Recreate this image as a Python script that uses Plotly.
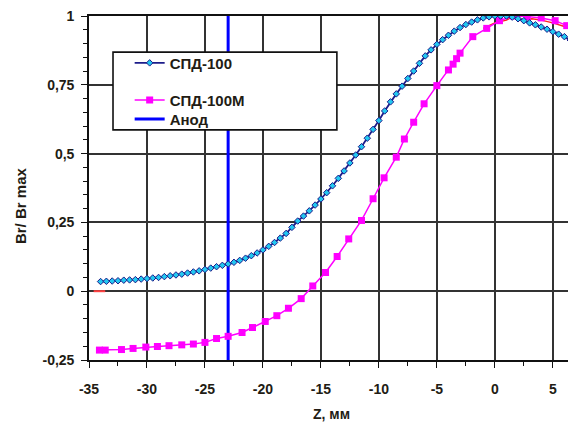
import plotly.graph_objects as go

# ---- data ----
z_100 = [-34, -33.5, -33, -32.5, -32, -31.5, -31, -30.5, -30, -29.5, -29, -28.5, -28, -27.5,
         -27, -26.5, -26, -25.5, -25, -24.5, -24, -23.5, -23, -22.5, -22, -21.5, -21, -20.5,
         -20, -19.5, -19, -18.5, -18, -17.5, -17, -16.5, -16, -15.5, -15, -14.5, -14, -13.5,
         -13, -12.5, -12, -11.5, -11, -10.5, -10, -9.5, -9, -8.5, -8, -7.5, -7, -6.5, -6,
         -5.5, -5, -4.5, -4, -3.5, -3, -2.5, -2, -1.5, -1, -0.5, 0, 0.5, 1, 1.5, 2, 2.5, 3,
         3.5, 4, 4.5, 5, 5.5, 6, 6.5, 7]
br_100 = [0.035, 0.036, 0.037, 0.038, 0.040, 0.041, 0.042, 0.044, 0.046, 0.048, 0.050, 0.053,
          0.056, 0.059, 0.062, 0.066, 0.070, 0.074, 0.079, 0.084, 0.089, 0.094, 0.099, 0.105,
          0.112, 0.120, 0.129, 0.139, 0.150, 0.163, 0.177, 0.193, 0.210, 0.232, 0.255, 0.273,
          0.292, 0.313, 0.335, 0.358, 0.383, 0.410, 0.437, 0.466, 0.495, 0.525, 0.556, 0.588,
          0.620, 0.655, 0.688, 0.717, 0.745, 0.773, 0.800, 0.828, 0.855, 0.877, 0.897, 0.914,
          0.930, 0.945, 0.958, 0.969, 0.978, 0.986, 0.993, 0.997, 1.000, 1.000, 1.000, 0.996,
          0.990, 0.983, 0.975, 0.968, 0.960, 0.952, 0.943, 0.934, 0.925, 0.913, 0.900]

z_100m = [-34.1, -33.6, -32.2, -31.2, -30.1, -29.1, -28.1, -27.0, -26.0, -25.0, -24.0, -23.0,
          -21.8, -20.9, -19.8, -18.8, -17.8, -16.7, -15.7, -14.6, -13.6, -12.6, -11.5, -10.5,
          -9.55, -8.5, -7.8, -7.0, -6.1, -5.0, -4.0, -3.6, -3.3, -3.0, -1.9, -0.7, 0.4, 1.6,
          2.8, 4.0, 5.2, 6.2, 7.0]
br_100m = [-0.214, -0.214, -0.212, -0.208, -0.203, -0.201, -0.198, -0.195, -0.192, -0.186,
           -0.172, -0.164, -0.150, -0.132, -0.110, -0.089, -0.062, -0.027, 0.019, 0.068, 0.126,
           0.190, 0.257, 0.336, 0.412, 0.487, 0.553, 0.614, 0.681, 0.747, 0.804, 0.825, 0.845,
           0.865, 0.925, 0.955, 0.983, 1.000, 0.998, 0.993, 0.983, 0.965, 0.950]

z_red = [-1.0, 0.0, 1.0, 1.6, 2.5, 3.2, 4.0, 5.0, 6.0, 7.0]
br_red = [0.955, 0.975, 0.985, 1.000, 0.985, 0.990, 0.985, 0.975, 0.962, 0.950]
z_red_stub = [-34.6, -33.6]
br_red_stub = [0.0, 0.0]

z_anode = [-23, -23]
br_anode = [-0.25, 1.0]

y_tickvals = [-0.25, 0, 0.25, 0.5, 0.75, 1]
y_ticktext = ["-0,25", "0", "0,25", "0,5", "0,75", "1"]
x_tickvals = [-35, -30, -25, -20, -15, -10, -5, 0, 5]
x_ticktext = ["-35", "-30", "-25", "-20", "-15", "-10", "-5", "0", "5"]

FONT = "Liberation Sans"
TXT = "#221c14"

fig = go.Figure()

fig.add_trace(go.Scatter(x=z_anode, y=br_anode, mode="lines", name="<b>Анод</b>",
                         line=dict(color="#0000ff", width=3), legend="legend3"))
fig.add_trace(go.Scatter(x=z_red, y=br_red, mode="lines", showlegend=False,
                         line=dict(color="#ff2020", width=1.5)))
fig.add_trace(go.Scatter(x=z_red_stub, y=br_red_stub, mode="lines", showlegend=False,
                         line=dict(color="#ff4040", width=2)))
fig.add_trace(go.Scatter(x=z_100m, y=br_100m, mode="lines+markers", name="<b>СПД-100М</b>",
                         line=dict(color="#ff00ff", width=1.5),
                         marker=dict(symbol="square", size=7, color="#ff00ff"),
                         legend="legend2"))
fig.add_trace(go.Scatter(x=z_100, y=br_100, mode="lines+markers", name="<b>СПД-100</b>",
                         line=dict(color="#1c1c8a", width=1.8),
                         marker=dict(symbol="diamond", size=5, color="#22c8f0",
                                     line=dict(color="#1c1c8a", width=1)),
                         legend="legend"))

# legend frame
fig.add_shape(type="rect", xref="paper", yref="paper", x0=0.0493, x1=0.509, y0=0.669, y1=0.895,
              fillcolor="white", line=dict(color="#111", width=1.6), layer="above")

leg_common = dict(x=0.0835, xanchor="left", yanchor="top", bgcolor="rgba(0,0,0,0)",
                  borderwidth=0, font=dict(family=FONT, size=15, color=TXT), itemwidth=30)

# page has an 8px body margin: figure is 568x415 so its visible area fits the window
fig.update_layout(
    width=568, height=415,
    margin=dict(l=81, r=0, t=8, b=63),
    paper_bgcolor="white", plot_bgcolor="white",
    font=dict(family=FONT, color=TXT, size=14),
    showlegend=True,
    legend=dict(y=0.911, **leg_common),
    legend2=dict(y=0.803, **leg_common),
    legend3=dict(y=0.748, **leg_common),
    xaxis=dict(range=[-35, 7], tickvals=x_tickvals, ticktext=x_ticktext,
               showgrid=True, gridcolor="#333333", gridwidth=1.5,
               showline=True, linecolor="#111", linewidth=1.6, mirror=True,
               ticks="outside", ticklen=6, tickwidth=1.3, tickcolor="#111",
               minor=dict(dtick=2.5, tick0=-35, ticks="outside", ticklen=4, tickcolor="#111",
                          showgrid=False),
               tickfont=dict(family=FONT, size=14, color=TXT, weight="bold"),
               ticklabelstandoff=9, zeroline=False, ticklabeloverflow="allow"),
    yaxis=dict(range=[-0.25, 1.0], tickvals=y_tickvals, ticktext=y_ticktext,
               showgrid=True, gridcolor="#333333", gridwidth=1.5,
               showline=True, linecolor="#111", linewidth=1.6,
               ticks="outside", ticklen=6, tickwidth=1.3, tickcolor="#111",
               minor=dict(dtick=0.05, tick0=0, ticks="outside", ticklen=4, tickcolor="#111",
                          showgrid=False),
               tickfont=dict(family=FONT, size=14, color=TXT, weight="bold"),
               ticklabelstandoff=4, zeroline=False, ticklabeloverflow="allow"),
    annotations=[
        dict(text="<b>Z, мм</b>", xref="paper", yref="paper", x=0.497, y=-0.158,
             xanchor="center", yanchor="middle", showarrow=False,
             font=dict(family=FONT, size=14, color=TXT)),
        dict(text="<b>Br/ Br max</b>", xref="paper", yref="paper", x=-0.142, y=0.45,
             xanchor="center", yanchor="middle", showarrow=False, textangle=-90,
             font=dict(family=FONT, size=15, color=TXT)),
    ],
)

fig.write_html("out.html")
